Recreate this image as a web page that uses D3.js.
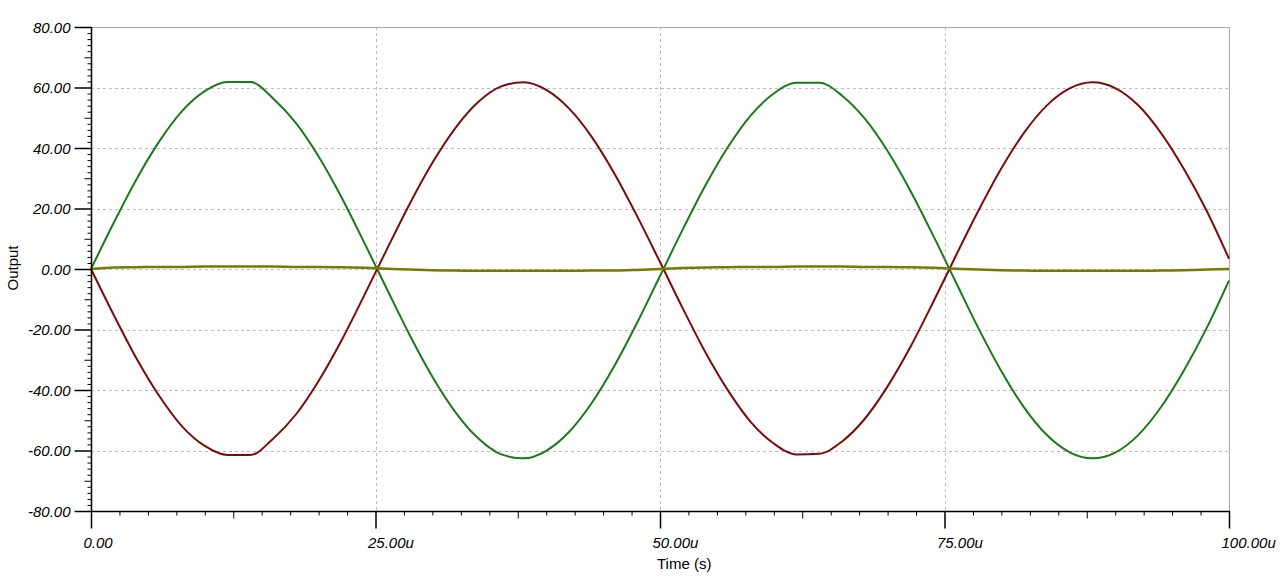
<!DOCTYPE html>
<html>
<head>
<meta charset="utf-8">
<script src="https://cdn.jsdelivr.net/npm/d3@7"></script>
<style>
  html, body { margin: 0; padding: 0; background: #ffffff; }
  svg { display: block; }
  text { font-family: "Liberation Sans", Arial, sans-serif; }
</style>
</head>
<body>
<svg id="chart" width="1280" height="584"></svg>
<script>
// ---- data (time in microseconds) ----
const time = [0,2,4,6,8,10,12,14,16,18,20,22,24,26,28,30,32,34,36,38,40,42,44,46,48,50,
  52,54,56,58,60,62,64,66,68,70,72,74,76,78,80,82,84,86,88,90,92,94,96,98,100];

const greenSeries = [0,15.3,29.7,42.2,52.2,58.8,61.8,61.8,56.4,48.3,37.2,23.8,8.8,-6.6,-21.8,-35.6,-47.2,-55.9,-61.2,-62.6,-60.1,-53.9,-44.3,-32.0,-17.7,-2.3,
  13.1,27.7,40.5,50.9,58.0,61.6,61.6,57.3,49.7,39.0,25.9,11.1,-4.4,-19.7,-33.8,-45.8,-54.9,-60.6,-62.6,-60.7,-55.0,-45.8,-33.8,-19.8,-3.8];

const redSeries = [0,-15.2,-29.6,-42.0,-52.0,-58.5,-61.5,-61.5,-56.1,-48.1,-37.0,-23.7,-8.8,6.5,21.5,35.1,46.5,55.1,60.3,61.7,59.2,53.1,43.7,31.5,17.4,2.3,
  -13.0,-27.6,-40.3,-50.7,-57.7,-61.3,-61.1,-57.0,-49.5,-38.8,-25.8,-11.0,4.4,19.4,33.3,45.1,54.1,59.7,61.7,59.8,54.2,45.1,33.3,19.5,3.4];

const oliveSeries = [0,0.5,0.6,0.7,0.7,0.8,0.8,0.8,0.8,0.7,0.7,0.6,0.4,0.1,-0.2,-0.4,-0.5,-0.6,-0.6,-0.6,-0.6,-0.6,-0.5,-0.5,-0.3,0,
  0.3,0.5,0.6,0.7,0.7,0.8,0.8,0.8,0.7,0.7,0.6,0.4,0.1,-0.2,-0.4,-0.5,-0.6,-0.6,-0.6,-0.6,-0.6,-0.5,-0.4,-0.2,0];

const xTickValues = [0,25,50,75,100];
const xTickLabels = ["0.00","25.00u","50.00u","75.00u","100.00u"];
const yTickValues = [80,60,40,20,0,-20,-40,-60,-80];
const yTickLabels = ["80.00","60.00","40.00","20.00","0.00","-20.00","-40.00","-60.00","-80.00"];

const seriesList = [
  { name: "green", values: greenSeries, color: "#1a7a1a", width: 2 },
  { name: "red", values: redSeries, color: "#7a0c0c", width: 2 },
  { name: "olive", values: oliveSeries, color: "#7a7800", width: 2.5 }
];

// ---- layout ----
const svg = d3.select("#chart");
const mLeft = 91, mRight = 1229, mTop = 27, mBottom = 511;
const x = d3.scaleLinear().domain([0, 100]).range([mLeft, mRight]);
const y = d3.scaleLinear().domain([-80, 80]).range([mBottom, mTop]);

// grid
const grid = svg.append("g");
grid.selectAll("line.hg").data(yTickValues.filter(v => v > -80 && v < 80)).join("line")
  .attr("x1", mLeft).attr("x2", mRight)
  .attr("y1", d => Math.round(y(d)) + 0.5).attr("y2", d => Math.round(y(d)) + 0.5)
  .attr("stroke", "#bdbdbd").attr("stroke-width", 1).attr("stroke-dasharray", "3,3");
grid.selectAll("line.vg").data(xTickValues.filter(v => v > 0 && v < 100)).join("line")
  .attr("y1", mTop).attr("y2", mBottom)
  .attr("x1", d => Math.round(x(d)) + 0.5).attr("x2", d => Math.round(x(d)) + 0.5)
  .attr("stroke", "#bdbdbd").attr("stroke-width", 1).attr("stroke-dasharray", "3,3");
// top and right borders
grid.append("line").attr("x1", mLeft).attr("x2", mRight + 0.5).attr("y1", y(80) + 0.5).attr("y2", y(80) + 0.5)
  .attr("stroke", "#a8a8a8").attr("stroke-width", 1);
grid.append("line").attr("x1", x(100) + 0.5).attr("x2", x(100) + 0.5).attr("y1", mTop).attr("y2", mBottom)
  .attr("stroke", "#a8a8a8").attr("stroke-width", 1);

// series
const line = d3.line().x((d, i) => x(time[i])).y(d => y(d)).curve(d3.curveMonotoneX);
svg.append("g").selectAll("path").data(seriesList).join("path")
  .attr("d", s => line(s.values))
  .attr("fill", "none")
  .attr("stroke", s => s.color)
  .attr("stroke-width", s => s.width)
  .attr("stroke-linejoin", "round");

// y axis minor ticks
const yMinor = d3.range(-80, 80.001, 2).filter(v => !yTickValues.includes(v));
const yMinorAxis = svg.append("g").attr("transform", `translate(${mLeft + 0.5},0)`)
  .call(d3.axisLeft(y).tickValues(yMinor).tickSize(4).tickFormat(""));
yMinorAxis.selectAll(".tick line").attr("x2", d => (Math.abs(d % 20) === 10 ? -7 : -4)).attr("stroke", "#000");
yMinorAxis.select(".domain").remove();

// y axis major
const yAxis = svg.append("g").attr("transform", `translate(${mLeft + 0.5},0)`)
  .call(d3.axisLeft(y).tickValues(yTickValues).tickSize(17).tickPadding(4)
    .tickFormat((d, i) => yTickLabels[i]));
yAxis.select(".domain").attr("d", `M0,${mTop}V${mBottom}`).attr("stroke", "#000").attr("stroke-width", 1.5);
yAxis.selectAll(".tick line").attr("stroke", "#000").attr("stroke-width", 1.5);
yAxis.selectAll(".tick text").attr("font-size", 15).attr("font-style", "italic")
  .attr("font-family", "Liberation Sans, Arial, sans-serif").attr("fill", "#000").attr("dy", "0.36em");

// x axis minor ticks
const xMinor = d3.range(0, 100.001, 2.5).filter(v => !xTickValues.includes(v));
const xMinorAxis = svg.append("g").attr("transform", `translate(0,${mBottom + 0.5})`)
  .call(d3.axisBottom(x).tickValues(xMinor).tickSize(4).tickFormat(""));
xMinorAxis.selectAll(".tick line").attr("y2", d => (Math.abs((d % 25) - 12.5) < 0.01 ? 7 : 4)).attr("stroke", "#000");
xMinorAxis.select(".domain").remove();

// x axis major
const xAxis = svg.append("g").attr("transform", `translate(0,${mBottom + 0.5})`)
  .call(d3.axisBottom(x).tickValues(xTickValues).tickSize(17)
    .tickFormat((d, i) => xTickLabels[i]));
xAxis.select(".domain").attr("d", `M${mLeft},0H${mRight + 1}`).attr("stroke", "#000").attr("stroke-width", 1.5);
xAxis.selectAll(".tick line").attr("stroke", "#000").attr("stroke-width", 1.5);
xAxis.selectAll(".tick text").attr("font-size", 15).attr("font-style", "italic")
  .attr("font-family", "Liberation Sans, Arial, sans-serif").attr("fill", "#000")
  .attr("text-anchor", "start").attr("x", -8).attr("y", 36).attr("dy", 0);

// axis titles
svg.append("text").attr("x", 657).attr("y", 569)
  .attr("font-size", 15).attr("fill", "#000").text("Time (s)");
svg.append("text").attr("transform", "translate(18,268) rotate(-90)")
  .attr("text-anchor", "middle").attr("font-size", 15).attr("fill", "#000").text("Output");
</script>
</body>
</html>
